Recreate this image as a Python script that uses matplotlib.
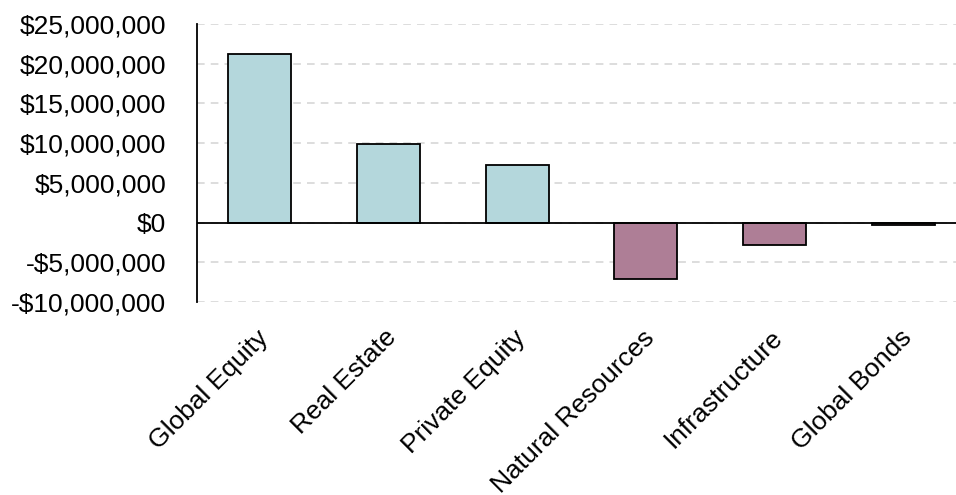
import matplotlib
matplotlib.use("Agg")
import matplotlib.pyplot as plt
import matplotlib.transforms as mtransforms
from matplotlib.ticker import FuncFormatter

# asset classes and their value contribution (USD)
categories = ["Global Equity", "Real Estate", "Private Equity",
              "Natural Resources", "Infrastructure", "Global Bonds"]
values = [21200000, 9900000, 7300000, -7100000, -2800000, -300000]
yticks = [-10000000, -5000000, 0, 5000000, 10000000, 15000000, 20000000, 25000000]

pos_color = "#b4d7dc"
neg_color = "#ae7e96"

plt.rcParams["font.family"] = ["Liberation Sans Narrow", "Liberation Sans", "DejaVu Sans"]

fig = plt.figure(figsize=(9.56, 4.95), dpi=100)
ax = fig.add_axes([0.206, 0.390, 0.794, 0.5615])

colors = [pos_color if v >= 0 else neg_color for v in values]
ax.bar(range(len(categories)), values, width=0.49, color=colors,
       edgecolor="black", linewidth=1.3, zorder=3)

ax.set_ylim(yticks[0], yticks[-1])
ax.set_xlim(-0.49, 5.41)
ax.set_yticks(yticks)

def money(v, _):
    return "-$" + format(int(abs(v)), ",") if v < 0 else "$" + format(int(v), ",")

ax.yaxis.set_major_formatter(FuncFormatter(money))
ax.set_xticks(range(len(categories)))
ax.set_xticklabels(categories, rotation=45, ha="right", rotation_mode="anchor")

ax.grid(axis="y", color="#d3d3d3", linestyle=(0, (5, 4)), linewidth=1.1, zorder=0)
ax.axhline(0, color="black", linewidth=1.3, zorder=4)

for side in ["top", "right", "bottom"]:
    ax.spines[side].set_visible(False)
ax.spines["left"].set_linewidth(1.3)
ax.tick_params(axis="both", length=0, labelsize=19)
ax.tick_params(axis="y", pad=22)
ax.tick_params(axis="x", pad=14)

# nudge the slanted category labels a little left
shift = mtransforms.ScaledTranslation(-4 / 100, -4 / 100, fig.dpi_scale_trans)
for lbl in ax.get_xticklabels():
    lbl.set_transform(lbl.get_transform() + shift)

fig.savefig("out.png", dpi=100)
